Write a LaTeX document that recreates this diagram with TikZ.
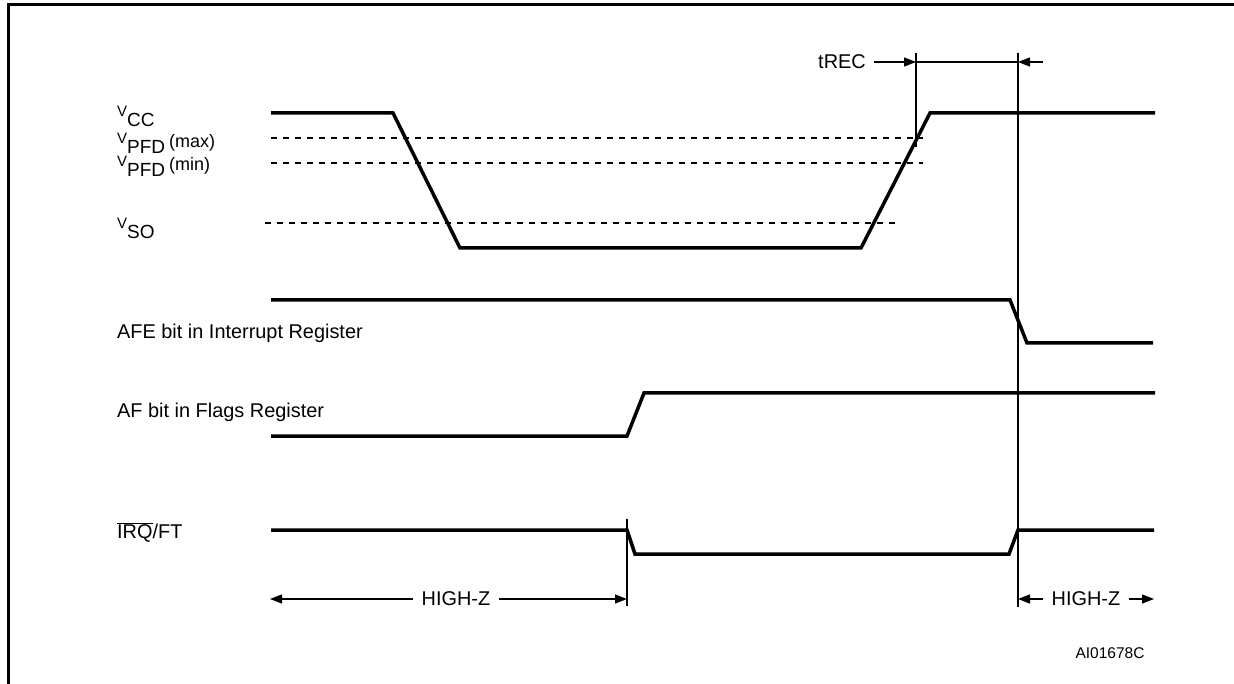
\documentclass[tikz,border=0pt]{standalone}
\usepackage{fontspec}
\setmainfont{Liberation Sans}
\usetikzlibrary{arrows.meta}
\newcommand{\vlab}[2]{{\fontsize{15}{15}\selectfont V}\raisebox{-10pt}{\fontsize{19}{19}\selectfont #1}\hspace{4pt}\raisebox{-4pt}{\fontsize{18}{18}\selectfont #2}}
\tikzset{>={Triangle[length=12pt,width=9pt]},every node/.style={font=\fontsize{19.9}{23}\selectfont,inner sep=0pt},
  sig/.style={line width=3.5pt},lvl/.style={line width=1.2pt,dash pattern=on 6pt off 6pt},
  guide/.style={line width=1.3pt},dim/.style={line width=1.3pt,->}}
\begin{document}
\begin{tikzpicture}[x=1pt,y=-1pt]
\useasboundingbox (0,0) rectangle (1234,684);
\draw[line width=3pt] (1234,5) -- (8,5) -- (8,684);
% labels
\node[anchor=base west] (vcc) at (117,117) {\vlab{CC}{}};
\node[anchor=base west] (vmax) at (117,144) {\vlab{PFD}{(max)}};
\node[anchor=base west] (vmin) at (117,167) {\vlab{PFD}{(min)}};
\node[anchor=base west] (vso) at (117,229) {\vlab{SO}{}};
\node[anchor=west] (afe) at (117,333) {AFE bit in Interrupt Register};
\node[anchor=west] (af) at (117,412) {AF bit in Flags Register};
\node[anchor=west] (irq) at (117,532) {$\overline{\hbox{IRQ}}$/FT};
% levels
\draw[lvl] (271,138) -- (923,138);
\draw[lvl] (271,163) -- (923,163);
\draw[lvl] (265,223) -- (897,223);
% signals
\draw[sig] (271,113) -- (393,113) -- (460,248) -- (861,248) -- (930,113) -- (1155,113);
\draw[sig] (271,300) -- (1010,300) -- (1027,343) -- (1153,343);
\draw[sig] (271,436) -- (627,436) -- (644,393) -- (1155,393);
\draw[sig] (271,530) -- (627,530) -- (635,554) -- (1009,554) -- (1018,530) -- (1154,530);
% timing marks
\coordinate (r1) at (916,62);
\coordinate (r2) at (1018,62);
\coordinate (z1) at (627,599);
\coordinate (z2) at (1018,599);
\draw[guide] (916,53) -- (916,147);
\draw[guide] (1018,53) -- (1018,607);
\draw[guide] (627,519) -- (627,606);
\node (trec) at (842,62) {tREC};
\draw[dim] ([xshift=8pt]trec.east) -- (r1);
\draw[guide] (r1) -- (r2);
\draw[dim] ([xshift=25pt]r2) -- (r2);
\node (hz1) at (456,599) {HIGH-Z};
\draw[dim] ([xshift=-9pt]hz1.west) -- (270,599);
\draw[dim] ([xshift=9pt]hz1.east) -- (z1);
\node (hz2) at (1086,599) {HIGH-Z};
\draw[dim] ([xshift=-9pt]hz2.west) -- (z2);
\draw[dim] ([xshift=9pt]hz2.east) -- (1154,599);
\node[font=\fontsize{15.5}{18}\selectfont] (code) at (1110,653) {AI01678C};
\end{tikzpicture}
\end{document}
